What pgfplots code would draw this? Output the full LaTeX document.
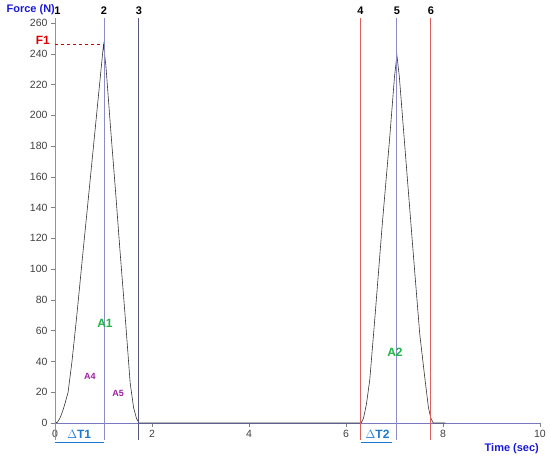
\documentclass[border=0pt]{standalone}
\usepackage{fontspec}
\setmainfont{Liberation Sans}
\usepackage{pgfplots}
\pgfplotsset{compat=1.18}
\definecolor{axblue}{RGB}{120,120,195}
\definecolor{curline}{RGB}{140,140,200}
\definecolor{darkline}{RGB}{85,85,125}
\definecolor{redline}{RGB}{220,95,95}
\definecolor{lblblue}{RGB}{25,25,220}
\definecolor{dtblue}{RGB}{30,120,210}
\definecolor{agreen}{RGB}{30,180,70}
\definecolor{apurple}{RGB}{160,30,160}
\begin{document}
\begin{tikzpicture}
\begin{axis}[
    at={(0,0)}, anchor=origin,
    scale only axis,
    width=485pt, height=400pt,
    xmin=0, xmax=10, ymin=0, ymax=260,
    axis lines=left,
    axis line style={axblue, -, line width=0.9pt},
    xtick={0,2,...,10},
    ytick={0,20,...,260},
    tick style={gray, thin},
    tick align=outside,
    major tick length=4pt,
    tick label style={font=\fontsize{10.5}{12}\selectfont, text=black!75},
    /pgf/number format/assume math mode=true,
    clip=false,
]
\addplot[black!80, line width=0.6pt] coordinates {
    (0,0) (0.05,0.5) (0.1,3) (0.15,7) (0.2,12) (0.27,20) (0.35,40)
    (0.45,70) (0.58,112) (0.7,150) (0.85,198) (0.95,230) (1.0,246)
    (1.05,232) (1.15,190) (1.25,150) (1.34,112) (1.45,68) (1.55,26)
    (1.62,10) (1.68,3) (1.73,0) (6.31,0)
    (6.36,3) (6.42,12) (6.49,28) (6.6,70) (6.75,130) (6.9,185) (7.0,225)
    (7.05,239) (7.1,225) (7.25,165) (7.4,105) (7.52,58) (7.63,28)
    (7.7,10) (7.75,3) (7.8,0) (8.05,0)
};
% cursor lines
\addplot[curline, line width=0.9pt] coordinates {(0,-11) (0,263)};
\addplot[curline, line width=0.9pt] coordinates {(1.01,-11) (1.01,263)};
\addplot[darkline, line width=0.9pt] coordinates {(1.73,-11) (1.73,263)};
\addplot[redline, line width=0.9pt] coordinates {(6.3,-11) (6.3,263)};
\addplot[curline, line width=0.9pt] coordinates {(7.05,-11) (7.05,263)};
\addplot[redline, line width=0.9pt] coordinates {(7.75,-11) (7.75,263)};
\node[font=\bfseries\fontsize{11}{12}\selectfont] at (axis cs:0.05,268) {1};
\node[font=\bfseries\fontsize{11}{12}\selectfont] at (axis cs:1.01,268) {2};
\node[font=\bfseries\fontsize{11}{12}\selectfont] at (axis cs:1.73,268) {3};
\node[font=\bfseries\fontsize{11}{12}\selectfont] at (axis cs:6.3,268) {4};
\node[font=\bfseries\fontsize{11}{12}\selectfont] at (axis cs:7.05,268) {5};
\node[font=\bfseries\fontsize{11}{12}\selectfont] at (axis cs:7.75,268) {6};
% F1
\addplot[red!80!black, dashed, thin] coordinates {(0,246) (1.0,246)};
\node[font=\bfseries\large, text=red!85!black] at (axis cs:-0.25,249) {F1};
% Delta T
\addplot[dtblue, line width=1pt] coordinates {(0,-13) (1.01,-13)};
\addplot[dtblue, line width=1pt] coordinates {(6.31,-13) (6.95,-13)};
\node[font=\bfseries\large, text=dtblue] at (axis cs:0.5,-7.5) {$\Delta$T1};
\node[font=\bfseries\large, text=dtblue] at (axis cs:6.65,-7.5) {$\Delta$T2};
% areas
\node[font=\bfseries\large, text=agreen] at (axis cs:1.03,65) {A1};
\node[font=\bfseries\large, text=agreen] at (axis cs:7.01,46) {A2};
\node[font=\bfseries\small, text=apurple] at (axis cs:0.72,30.5) {A4};
\node[font=\bfseries\small, text=apurple] at (axis cs:1.3,19) {A5};
% axis titles
\node[font=\bfseries\fontsize{11}{12}\selectfont, text=lblblue, anchor=west] at (axis cs:-1.07,268.5) {Force (N)};
\node[font=\bfseries\fontsize{11}{12}\selectfont, text=lblblue, anchor=east] at (axis cs:10.05,-17) {Time (sec)};
\end{axis}
\path[use as bounding box] (-55pt,-35pt) rectangle (495pt,423pt);
\end{tikzpicture}
\end{document}
